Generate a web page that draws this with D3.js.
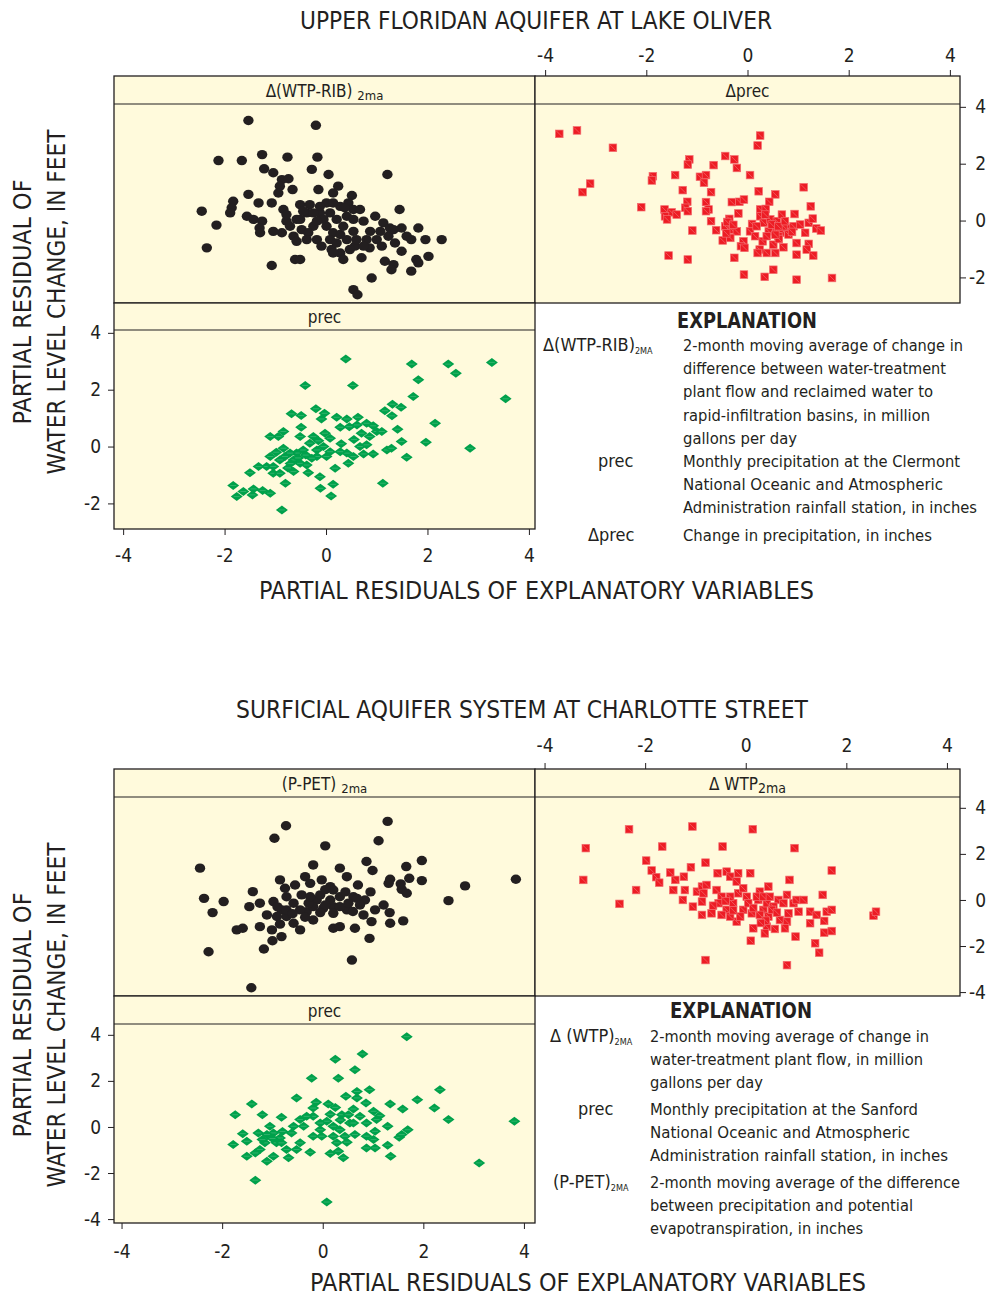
<!DOCTYPE html>
<html>
<head>
<meta charset="utf-8">
<script src="https://cdn.jsdelivr.net/npm/d3@7"></script>
<style>
  html, body { margin: 0; padding: 0; background: #fff; }
  svg { display: block; }
  text { font-family: "DejaVu Sans Condensed", "Liberation Sans Narrow", "Roboto Condensed", Roboto, sans-serif; font-stretch: condensed; fill: #231F20; }
</style>
</head>
<body>
<div id="chart"></div>
<script>
// ── data: partial residuals [x, y] ──
const xTicks = [-4, -2, 0, 2, 4];
const lakeOliverYTicks = [-2, 0, 2, 4];
const charlotteYTicks = [-4, -2, 0, 2, 4];

// Upper Floridan aquifer at Lake Oliver
const lakeOliverWtpRib = [
  [-1.53, 3.52], [-0.20, 3.35], [-2.12, 2.11], [-1.66, 2.11], [-1.26, 2.32], [-0.76, 2.23], [-0.17, 2.23],
  [-1.22, 1.82], [-1.04, 1.68], [-0.28, 1.80], [0.05, 1.62], [1.21, 1.62], [-0.87, 1.44], [-0.74, 1.47],
  [-0.91, 1.21], [-0.66, 1.09], [-0.15, 1.09], [0.24, 1.21], [0.14, 0.97], [0.51, 0.88], [-0.94, 0.97],
  [-1.53, 0.92], [-1.83, 0.68], [-1.33, 0.62], [-1.07, 0.62], [-1.86, 0.45], [-1.89, 0.27], [-2.45, 0.33],
  [-1.56, 0.15], [-1.43, 0.04], [-1.26, -0.02], [-2.16, -0.16], [-1.31, -0.26], [-1.30, -0.43], [-2.35, -0.96],
  [-0.84, 0.39], [-0.78, -0.02], [-0.87, -0.43], [-0.51, 0.56], [-0.32, 0.56], [-0.38, 0.27], [-0.58, 0.04],
  [-0.48, -0.32], [-0.25, -0.20], [-0.12, 0.27], [0.01, 0.62], [0.08, 0.27], [0.01, -0.20], [0.14, -0.43],
  [0.28, 0.50], [0.44, 0.62], [0.54, 0.39], [0.41, 0.15], [0.34, -0.20], [0.54, -0.38], [0.67, 0.39],
  [0.74, -0.02], [0.87, -0.38], [0.97, 0.15], [1.13, -0.08], [1.26, -0.26], [1.45, 0.39], [1.49, -0.26],
  [1.68, -0.67], [1.82, -0.26], [1.96, -0.67], [2.28, -0.67], [1.36, -0.79], [1.49, -1.08], [1.16, -1.43],
  [1.33, -1.55], [1.29, -1.73], [1.68, -1.78], [1.78, -1.37], [2.02, -1.26], [1.82, -1.49], [0.11, -1.02],
  [0.28, -1.14], [0.34, -1.37], [0.70, -1.31], [0.57, -0.90], [0.86, -0.96], [-0.61, -1.37], [-0.51, -1.37],
  [-1.07, -1.58], [0.90, -2.02], [0.54, -2.43], [0.62, -2.61], [-0.78, 0.21], [-0.51, 0.04], [-0.35, -0.43],
  [-0.18, -0.67], [-0.05, 0.04], [0.08, -0.67], [0.21, -0.79], [-0.38, -0.67], [-0.64, -0.55], [-0.25, 0.27],
  [-0.18, -0.02], [0.21, 0.04], [0.28, -0.49], [0.41, -0.67], [0.60, -0.67], [0.80, -0.67], [1.00, -0.67],
  [1.23, -0.55], [1.33, -0.32], [1.07, -0.38], [0.54, 0.04], [0.37, 0.45], [0.14, 0.62], [-0.12, 0.50],
  [-0.45, 0.33], [-0.71, -0.20], [-1.04, -0.38], [-0.58, -0.73], [-0.09, -0.90], [0.14, -1.14], [0.47, -1.02],
  [0.74, -0.90], [1.10, -0.90], [1.59, -0.55]
];
const lakeOliverDprec = [
  [-3.72, 3.05], [-3.37, 3.17], [-2.66, 2.56], [-3.11, 1.30], [-3.26, 1.00], [-2.10, 0.47], [0.25, 2.99],
  [0.20, 2.64], [-0.44, 2.27], [-0.26, 2.15], [-0.21, 1.85], [-1.15, 2.15], [-1.18, 1.97], [-0.67, 1.95],
  [-1.87, 1.56], [-1.89, 1.41], [-1.43, 1.60], [-0.94, 1.54], [-0.82, 1.60], [-0.86, 1.33], [0.05, 1.60],
  [1.11, 1.17], [-1.28, 1.07], [-0.72, 1.00], [0.22, 1.03], [0.55, 0.92], [0.43, 0.66], [-0.31, 0.65],
  [-0.16, 0.66], [-0.07, 0.74], [-1.19, 0.66], [-1.23, 0.45], [-0.82, 0.65], [-0.77, 0.39], [-0.82, 0.33],
  [-1.64, 0.39], [-1.50, 0.29], [-1.40, 0.21], [-1.63, 0.15], [-1.59, 0.04], [-1.18, 0.33], [-0.72, -0.02],
  [-1.09, -0.35], [-0.62, -0.34], [-0.36, 0.06], [-0.18, 0.25], [-0.44, -0.20], [-0.31, -0.32], [-0.21, -0.38],
  [-0.49, -0.70], [-0.34, -0.61], [-0.08, -0.73], [-0.13, -0.90], [-0.06, -0.96], [-0.26, -1.31], [-1.56, -1.23],
  [-1.18, -1.37], [0.05, -0.38], [0.09, -0.12], [0.25, 0.39], [0.25, 0.15], [0.36, 0.41], [0.32, -0.08],
  [0.45, 0.04], [0.58, -0.02], [0.68, 0.21], [0.51, -0.32], [0.65, -0.43], [0.78, -0.26], [0.91, -0.20],
  [0.93, 0.23], [1.04, -0.14], [1.14, -0.43], [1.21, -0.08], [1.25, 0.50], [1.29, 0.07], [1.36, -0.28],
  [1.45, -0.35], [0.30, -0.73], [0.24, -1.02], [0.20, -1.14], [0.38, -1.14], [0.51, -0.85], [0.55, -1.14],
  [0.71, -0.94], [0.97, -0.79], [0.97, -1.20], [1.21, -0.82], [1.17, -1.02], [1.30, -1.23], [0.51, -1.73],
  [-0.07, -1.90], [0.34, -1.98], [0.97, -2.08], [1.67, -2.02], [0.71, -0.20], [0.61, -0.55], [0.42, -0.38],
  [0.18, -0.20], [0.38, -0.55], [0.48, -0.14], [0.61, -0.20], [0.74, -0.02], [0.81, -0.49], [0.35, 0.21],
  [-0.40, -0.05], [-0.28, -0.15], [-0.42, -0.45], [0.15, -0.55], [0.62, -0.65], [0.88, -0.40], [0.55, -0.50]
];
const lakeOliverPrec = [
  [0.39, 3.08], [1.69, 2.90], [2.41, 2.90], [2.56, 2.58], [3.27, 2.96], [1.82, 2.35], [3.54, 1.68],
  [-0.41, 2.15], [0.53, 2.15], [1.72, 1.76], [1.16, 1.26], [1.31, 1.49], [1.48, 1.38], [1.30, 1.08],
  [-0.20, 1.33], [-0.03, 1.17], [-0.09, 0.97], [-0.68, 1.15], [-0.49, 1.09], [0.21, 1.03], [0.41, 0.97],
  [0.63, 1.03], [-0.49, 0.68], [0.28, 0.68], [0.46, 0.70], [0.61, 0.76], [0.80, 0.82], [0.93, 0.73],
  [1.00, 0.53], [1.10, 0.53], [1.41, 0.61], [2.15, 0.82], [-0.84, 0.53], [-0.94, 0.35], [-1.10, 0.35],
  [-0.51, 0.35], [-0.25, 0.35], [-0.02, 0.47], [0.08, 0.29], [0.70, 0.47], [0.86, 0.35], [0.67, 0.00],
  [0.80, 0.06], [1.49, 0.18], [1.97, 0.15], [1.20, -0.12], [1.29, -0.06], [2.84, -0.06], [1.59, -0.38],
  [0.93, -0.26], [0.74, -0.26], [0.54, -0.35], [0.44, -0.59], [0.41, -0.23], [0.28, -0.18], [0.18, -0.76],
  [0.08, -0.18], [-0.05, 0.00], [-0.18, -0.12], [-0.32, 0.12], [-0.45, -0.12], [-0.58, -0.23], [-0.71, -0.23],
  [-0.84, -0.06], [-0.81, -0.35], [-0.64, -0.47], [-0.51, -0.59], [-0.64, -0.88], [-0.91, -0.47], [-1.10, -0.35],
  [-1.17, -0.70], [-1.04, -0.94], [-0.91, -0.94], [-1.33, -0.70], [-1.50, -0.92], [-0.80, -1.29], [-0.35, -0.92],
  [-0.12, -1.06], [-0.11, -1.47], [0.14, -1.33], [0.10, -1.74], [1.12, -1.29], [-1.83, -1.37], [-1.63, -1.58],
  [-1.76, -1.76], [-1.43, -1.49], [-1.45, -1.70], [-1.25, -1.55], [-1.10, -1.64], [-0.87, -2.23], [-0.18, -0.35],
  [-0.28, -0.41], [0.01, -0.35], [-0.38, -0.65], [-1.04, -0.70], [-0.70, -0.60], [-0.98, -0.20], [-0.40, -0.30],
  [-0.15, 0.20], [0.30, 0.10], [0.55, 0.25], [-0.75, -0.75], [-0.55, -0.40]
];

// Surficial aquifer system at Charlotte Street
const charlottePpet = [
  [-0.73, 3.22], [-0.96, 2.68], [1.29, 3.41], [1.11, 2.57], [0.05, 2.35], [-2.44, 1.38], [-2.36, 0.07],
  [-2.19, -0.55], [-1.97, -0.07], [-2.27, -2.25], [-1.42, -3.81], [0.58, -2.61], [-1.71, -1.30], [-1.59, -1.23],
  [-1.17, -2.13], [-1.00, -1.77], [-0.82, -1.59], [-1.39, 0.36], [-1.46, -0.29], [-1.25, -0.14], [-1.25, -1.16],
  [-1.01, -1.30], [-1.11, -0.65], [-0.98, -0.07], [-0.85, 0.87], [-0.75, 0.51], [-0.82, -0.43], [-0.72, -0.72],
  [-0.58, -0.14], [-0.58, -1.01], [-0.45, -1.30], [-0.55, 0.65], [-0.42, 0.22], [-0.35, 1.01], [-0.19, 1.52],
  [-0.25, 0.72], [-0.32, -0.51], [-0.19, -0.87], [-0.12, 0.00], [-0.02, 0.87], [0.01, -0.36], [0.15, 0.58],
  [0.21, -1.23], [0.21, -0.29], [0.34, 1.38], [0.34, 0.14], [0.48, 1.01], [0.48, -0.43], [0.34, -1.16],
  [0.64, -1.23], [0.70, 0.65], [0.81, -0.65], [0.84, 0.00], [0.87, 1.67], [0.99, 1.28], [0.97, -0.94],
  [0.93, -1.67], [1.04, -0.43], [1.21, -0.22], [1.34, 0.90], [1.31, 0.72], [1.33, -0.55], [1.34, -1.01],
  [1.60, -0.91], [1.66, 1.45], [1.72, 0.94], [1.57, 0.46], [1.67, 0.29], [1.97, 1.71], [1.97, 0.84],
  [2.50, -0.03], [2.83, 0.61], [3.84, 0.90], [0.61, 0.14], [0.51, -0.14], [0.15, 0.00], [0.05, -0.22],
  [-0.05, 0.22], [-0.19, -0.29], [-0.28, -0.14], [-0.45, -0.43], [-0.72, -0.43], [-0.91, -0.72], [0.21, -0.58],
  [0.34, -0.29], [0.68, 0.07], [0.74, -0.22], [0.21, 0.43], [-0.25, 0.14], [-0.72, 0.14], [-0.60, -0.60],
  [-0.90, -0.30], [-0.35, -0.75], [0.05, 0.45], [0.45, 0.35], [0.60, -0.50], [-0.05, -0.55], [-0.85, -1.05],
  [1.55, 0.70], [0.95, 0.35]
];
const charlotteDwtp = [
  [-2.32, 3.07], [-1.06, 3.19], [0.14, 3.07], [-3.18, 2.25], [-1.66, 2.32], [-0.46, 2.32], [0.97, 2.25],
  [-3.23, 0.87], [-1.98, 1.71], [-1.87, 1.28], [-1.78, 0.99], [-1.72, 0.75], [-1.50, 1.19], [-1.40, 0.87],
  [-1.23, 1.01], [-1.09, 1.42], [-0.80, 1.62], [-2.18, 0.43], [-2.51, -0.17], [-1.44, 0.43], [-1.21, 0.43],
  [-1.25, 0.00], [-1.05, -0.29], [-0.97, 0.36], [-0.87, 0.58], [-0.78, 0.65], [-0.84, 0.29], [-0.87, -0.07],
  [-0.87, -0.65], [-0.68, -0.58], [-0.56, 1.16], [-0.38, 1.23], [-0.31, 1.01], [-0.15, 1.16], [0.09, 1.16],
  [-0.18, 0.80], [-0.58, 0.43], [-0.48, 0.14], [-0.54, -0.14], [-0.38, -0.43], [-0.48, -0.65], [-0.18, -0.94],
  [-0.25, -0.14], [-0.15, 0.29], [-0.05, 0.51], [0.02, 0.14], [-0.05, -0.43], [0.12, -0.58], [0.15, -1.23],
  [0.10, -1.77], [0.25, 0.00], [0.28, 0.36], [0.35, -0.43], [0.45, 0.58], [0.42, -0.14], [0.45, -0.72],
  [0.42, -1.16], [0.38, -1.45], [0.58, -1.26], [0.65, 0.00], [0.75, -0.14], [0.68, -0.87], [0.82, -0.94],
  [0.78, -1.23], [0.87, 0.87], [0.82, 0.22], [0.85, -0.58], [0.95, -0.14], [1.05, -0.51], [1.01, 0.00],
  [1.15, 0.00], [0.99, -1.59], [1.38, -1.88], [1.46, -2.29], [1.28, -0.51], [1.28, -1.01], [1.41, -0.65],
  [1.56, -0.91], [1.61, -0.51], [1.71, -0.43], [1.53, 0.22], [1.56, -1.42], [1.71, -1.35], [1.71, 1.28],
  [2.54, -0.68], [2.59, -0.51], [-0.80, -2.61], [0.82, -2.83], [0.22, 0.14], [0.35, 0.14], [0.48, 0.14],
  [0.55, -0.29], [0.28, -0.65], [0.05, -0.14], [-0.31, 0.14], [-0.11, -0.72], [-0.31, -0.72], [0.52, -0.43],
  [-0.65, -0.25], [-0.40, -0.05], [0.15, -0.35], [0.40, -0.90], [0.62, -0.55], [-0.25, -0.45], [0.30, -1.00]
];
const charlottePrec = [
  [1.67, 3.92], [0.79, 3.17], [0.25, 2.94], [0.64, 2.48], [-0.22, 2.12], [0.31, 2.12], [0.68, 1.54],
  [0.93, 1.62], [0.68, 1.26], [0.86, 1.04], [2.33, 1.62], [1.88, 1.18], [-0.52, 1.26], [-1.41, 1.00],
  [-1.74, 0.53], [-1.20, 0.53], [-0.82, 0.42], [-0.13, 1.07], [-0.19, 0.82], [0.11, 1.00], [0.46, 1.33],
  [0.25, 0.85], [0.38, 0.53], [0.61, 0.78], [0.51, 0.53], [0.74, 0.46], [1.01, 0.68], [1.13, 0.49],
  [1.34, 1.00], [1.59, 0.78], [2.22, 0.82], [2.50, 0.32], [3.81, 0.25], [1.29, 0.03], [1.69, -0.12],
  [1.52, -0.45], [1.57, -0.33], [1.29, -0.79], [1.35, -1.27], [1.04, -0.19], [1.01, -0.55], [1.04, -0.91],
  [0.87, -0.91], [0.87, -0.40], [0.64, -0.33], [0.48, -0.66], [0.34, -0.12], [0.21, 0.03], [0.08, 0.25],
  [-0.05, 0.17], [-0.02, -0.40], [-0.19, -0.40], [0.15, -1.15], [0.31, -1.05], [0.41, -1.34], [0.28, -0.69],
  [-0.25, -1.10], [-0.38, 0.03], [-0.45, 0.32], [-0.58, 0.03], [-0.62, -0.26], [-0.45, -0.69], [-0.52, -0.98],
  [-0.68, -1.34], [-0.72, -0.98], [-0.85, -0.48], [-0.92, -0.69], [-0.98, -0.26], [-1.05, 0.03], [-1.11, -0.33],
  [-1.15, -0.69], [-1.25, -0.98], [-1.11, -1.49], [-0.98, -1.27], [-1.28, -0.26], [-1.34, -1.13], [-1.51, -1.27],
  [-1.59, -0.29], [-1.51, -0.62], [-1.78, -0.76], [-1.34, -2.31], [0.08, -3.26], [3.11, -1.56], [1.07, 0.32],
  [-0.19, 0.46], [-0.32, 0.46], [-0.82, -0.69], [0.54, 0.17], [0.44, -0.40], [-0.05, -0.12], [0.21, -0.40],
  [0.61, 0.17], [0.87, 0.17], [-1.00, -0.50], [-0.80, -0.20], [-1.20, -0.55], [0.35, 0.30], [0.15, 0.55]
];

// ── layout ──
const width = 989, height = 1298;
const colL = [114, 535], colR = [535, 960];

const svg = d3.select("#chart").append("svg")
  .attr("width", width).attr("height", height);

const ink = "#231F20";
const panelFill = "#FFFADC";
const fmt = (d) => String(d); // plain hyphen minus, as in the original

const marker = {
  circle: (g, pts, sx, sy) => g.selectAll("ellipse").data(pts).join("ellipse")
    .attr("cx", (d) => sx(d[0])).attr("cy", (d) => sy(d[1]))
    .attr("rx", 5.2).attr("ry", 4.7).attr("fill", ink),
  square: (g, pts, sx, sy) => {
    const s = 7.6;
    const cell = g.selectAll("g").data(pts).join("g")
      .attr("transform", (d) => `translate(${sx(d[0])},${sy(d[1])})`);
    cell.append("rect").attr("x", -s / 2).attr("y", -s / 2).attr("width", s).attr("height", s)
      .attr("fill", "#ED1C24").attr("stroke", "#F36D70").attr("stroke-width", 0.7);
    cell.append("line").attr("x1", -s / 2 + 1).attr("y1", -s / 2 + 1).attr("x2", s / 2 - 1).attr("y2", s / 2 - 1)
      .attr("stroke", "#F58A8C").attr("stroke-width", 0.5);
  },
  diamond: (g, pts, sx, sy) => {
    const cell = g.selectAll("g").data(pts).join("g")
      .attr("transform", (d) => `translate(${sx(d[0])},${sy(d[1])})`);
    cell.append("path").attr("d", "M-6,0L0,-4.5L6,0L0,4.5Z").attr("fill", "#00A14B");
    cell.append("line").attr("x1", -3).attr("x2", 3).attr("y1", 0).attr("y2", 0)
      .attr("stroke", "#5CC28A").attr("stroke-width", 0.5);
  }
};

// strip label with subscript
const stripLabel = (g, cx, y, main, sub, subSize) => {
  const t = g.append("text").attr("x", cx).attr("y", y)
    .attr("text-anchor", "middle").attr("font-size", 17);
  t.append("tspan").text(main);
  if (sub) t.append("tspan").attr("font-size", subSize || 12).attr("dy", 3).text(sub);
};

const styleAxis = (g) => {
  g.select(".domain").remove();
  g.selectAll(".tick line").attr("stroke", ink).attr("stroke-width", 1);
  g.selectAll(".tick text").attr("font-size", 19).attr("fill", ink)
    .attr("font-family", null);
};

const drawFigure = (cfg) => {
  const f = svg.append("g");
  const [sTop, pTop, pBot, p2Top, p2Bot] = cfg.rows;

  const xL = d3.scaleLinear().domain(cfg.xDomL).range(colL);
  const xR = d3.scaleLinear().domain(cfg.xDomR).range(colR);
  const y1 = d3.scaleLinear().domain(cfg.yDom).range([pBot, pTop]);
  const y2 = d3.scaleLinear().domain(cfg.yDom).range([p2Bot, p2Top]);

  const panels = [
    { x: xL, y: y1, col: colL, strip: [sTop, pTop], bot: pBot, pts: cfg.tl, mk: "circle", label: cfg.tlLabel },
    { x: xR, y: y1, col: colR, strip: [sTop, pTop], bot: pBot, pts: cfg.tr, mk: "square", label: cfg.trLabel },
    { x: xL, y: y2, col: colL, strip: [pBot, p2Top], bot: p2Bot, pts: cfg.bl, mk: "diamond", label: cfg.blLabel }
  ];

  panels.forEach((p) => {
    const g = f.append("g");
    g.append("rect").attr("x", p.col[0]).attr("y", p.strip[0])
      .attr("width", p.col[1] - p.col[0]).attr("height", p.bot - p.strip[0])
      .attr("fill", panelFill);
    const clipId = `clip-${cfg.id}-${p.mk}`;
    g.append("clipPath").attr("id", clipId).append("rect")
      .attr("x", p.col[0]).attr("y", p.strip[1])
      .attr("width", p.col[1] - p.col[0]).attr("height", p.bot - p.strip[1]);
    const pts = g.append("g").attr("clip-path", `url(#${clipId})`);
    marker[p.mk](pts, p.pts, p.x, p.y);
    g.append("line").attr("x1", p.col[0]).attr("x2", p.col[1])
      .attr("y1", p.strip[1]).attr("y2", p.strip[1]).attr("stroke", ink).attr("stroke-width", 1.1);
    g.append("rect").attr("x", p.col[0]).attr("y", p.strip[0])
      .attr("width", p.col[1] - p.col[0]).attr("height", p.bot - p.strip[0])
      .attr("fill", "none").attr("stroke", ink).attr("stroke-width", 1.3);
    stripLabel(g, (p.col[0] + p.col[1]) / 2, p.strip[1] - 7, p.label[0], p.label[1], p.label[2]);
  });

  // axes: top of right column, right of top row, bottom and left of lower panel
  f.append("g").attr("transform", `translate(0,${sTop})`)
    .call(d3.axisTop(xR).tickValues(xTicks).tickSize(6).tickFormat(fmt))
    .call(styleAxis)
    .call((g) => g.selectAll(".tick text").attr("y", cfg.topLabelY - sTop).attr("dy", 0));

  f.append("g").attr("transform", `translate(${colR[1]},0)`)
    .call(d3.axisRight(y1).tickValues(cfg.yTicks).tickSize(6).tickFormat(fmt))
    .call(styleAxis)
    .call((g) => g.selectAll(".tick text").attr("x", 26).attr("text-anchor", "end"));

  f.append("g").attr("transform", `translate(0,${p2Bot})`)
    .call(d3.axisBottom(xL).tickValues(xTicks).tickSize(6).tickFormat(fmt))
    .call(styleAxis)
    .call((g) => g.selectAll(".tick text").attr("y", cfg.botLabelY - p2Bot).attr("dy", 0));

  f.append("g").attr("transform", `translate(${colL[0]},0)`)
    .call(d3.axisLeft(y2).tickValues(cfg.yTicks).tickSize(6).tickFormat(fmt))
    .call(styleAxis)
    .call((g) => g.selectAll(".tick text").attr("x", -13));

  // titles
  f.append("text").attr("x", cfg.title.x).attr("y", cfg.title.y)
    .attr("font-size", 25).attr("textLength", cfg.title.w).attr("lengthAdjust", "spacingAndGlyphs")
    .text(cfg.title.text);
  f.append("text").attr("x", cfg.xlab.x).attr("y", cfg.xlab.y)
    .attr("font-size", 24).attr("textLength", cfg.xlab.w).attr("lengthAdjust", "spacingAndGlyphs")
    .text("PARTIAL RESIDUALS OF EXPLANATORY VARIABLES");
  [["PARTIAL RESIDUAL OF", 31, 245], ["WATER LEVEL CHANGE, IN FEET", 65, 345]].forEach(([t, x, w]) => {
    f.append("text").attr("transform", `translate(${x},${cfg.ylabCy}) rotate(-90)`)
      .attr("text-anchor", "middle").attr("font-size", 25)
      .attr("textLength", w).attr("lengthAdjust", "spacingAndGlyphs").text(t);
  });

  // explanation
  const ex = cfg.explain;
  f.append("text").attr("x", ex.head[0]).attr("y", ex.head[1])
    .attr("font-size", 22).attr("font-weight", "bold")
    .attr("textLength", ex.head[2]).attr("lengthAdjust", "spacingAndGlyphs").text("EXPLANATION");
  ex.items.forEach((it) => {
    const lt = f.append("text").attr("x", it.lx).attr("y", it.y).attr("font-size", 18);
    lt.append("tspan").text(it.label);
    if (it.sub) lt.append("tspan").attr("font-size", 9).attr("dy", 3).text(it.sub);
    it.lines.forEach(([line, w], i) => {
      f.append("text").attr("x", ex.dx).attr("y", it.y + i * 23.2)
        .attr("font-size", 16.5).attr("textLength", w).attr("lengthAdjust", "spacingAndGlyphs")
        .text(line);
    });
  });
};

drawFigure({
  id: "lake",
  rows: [76, 104, 303, 330, 529],
  xDomL: [-4.18, 4.12], xDomR: [-4.2, 4.2], yDom: [-2.9, 4.1],
  yTicks: lakeOliverYTicks,
  topLabelY: 62, botLabelY: 562,
  tl: lakeOliverWtpRib, tr: lakeOliverDprec, bl: lakeOliverPrec,
  tlLabel: ["\u0394(WTP-RIB) ", "2ma", 13], trLabel: ["\u0394prec"], blLabel: ["prec"],
  title: { text: "UPPER FLORIDAN AQUIFER AT LAKE OLIVER", x: 300, y: 29, w: 472 },
  xlab: { x: 259, y: 599, w: 555 },
  ylabCy: 302,
  explain: {
    head: [677, 328, 140], dx: 683,
    items: [
      { label: "\u0394(WTP-RIB)", sub: "2MA", lx: 543, y: 351, lines: [
        ["2-month moving average of change in", 280],
        ["difference between water-treatment", 263],
        ["plant flow and reclaimed water to", 250],
        ["rapid-infiltration basins, in million", 247],
        ["gallons per day", 114]] },
      { label: "prec", lx: 598, y: 467, lines: [
        ["Monthly precipitation at the Clermont", 277],
        ["National Oceanic and Atmospheric", 260],
        ["Administration rainfall station, in inches", 294]] },
      { label: "\u0394prec", lx: 588, y: 541, lines: [
        ["Change in precipitation, in inches", 249]] }
    ]
  }
});

drawFigure({
  id: "charlotte",
  rows: [769, 797, 996, 1024, 1223],
  xDomL: [-4.15, 4.22], xDomR: [-4.19, 4.26], yDom: [-4.17, 4.47],
  yTicks: charlotteYTicks,
  topLabelY: 752, botLabelY: 1258,
  tl: charlottePpet, tr: charlotteDwtp, bl: charlottePrec,
  tlLabel: ["(P-PET) ", "2ma", 13], trLabel: ["\u0394 WTP", "2ma", 14], blLabel: ["prec"],
  title: { text: "SURFICIAL AQUIFER SYSTEM AT CHARLOTTE STREET", x: 236, y: 718, w: 572 },
  xlab: { x: 310, y: 1291, w: 556 },
  ylabCy: 1015,
  explain: {
    head: [670, 1018, 142], dx: 650,
    items: [
      { label: "\u0394 (WTP)", sub: "2MA", lx: 550, y: 1042, lines: [
        ["2-month moving average of change in", 279],
        ["water-treatment plant flow, in million", 273],
        ["gallons per day", 113]] },
      { label: "prec", lx: 578, y: 1115, lines: [
        ["Monthly precipitation at the Sanford", 268],
        ["National Oceanic and Atmospheric", 260],
        ["Administration  rainfall station, in inches", 298]] },
      { label: "(P-PET)", sub: "2MA", lx: 553, y: 1188, lines: [
        ["2-month moving average of the difference", 310],
        ["between precipitation and potential", 263],
        ["evapotranspiration, in inches", 213]] }
    ]
  }
});
</script>
</body>
</html>
